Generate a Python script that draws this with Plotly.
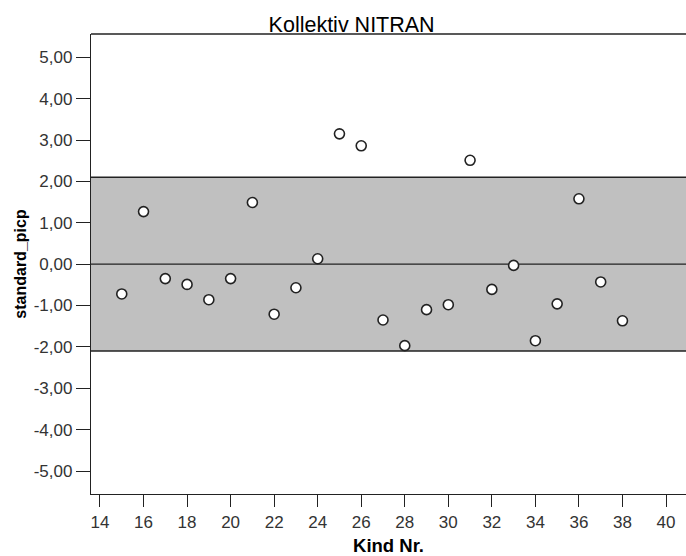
import plotly.graph_objects as go

# ---- data ----
kind_nr = [15, 16, 17, 18, 19, 20, 21, 22, 23, 24, 25, 26,
           27, 28, 29, 30, 31, 32, 33, 34, 35, 36, 37, 38]
standard_picp = [-0.72, 1.27, -0.35, -0.49, -0.86, -0.35, 1.49, -1.21,
                 -0.57, 0.13, 3.15, 2.86, -1.35, -1.97, -1.10, -0.98,
                 2.51, -0.61, -0.03, -1.85, -0.96, 1.58, -0.43, -1.37]

band_limit = 2.1
reference_line = 0.0

x_ticks = list(range(14, 41, 2))
x_tick_labels = [str(v) for v in x_ticks]
y_ticks = [5, 4, 3, 2, 1, 0, -1, -2, -3, -4, -5]
y_tick_labels = ["5,00", "4,00", "3,00", "2,00", "1,00", "0,00",
                 "-1,00", "-2,00", "-3,00", "-4,00", "-5,00"]

title_text = "Kollektiv NITRAN"
x_title = "Kind Nr."
y_title = "standard_picp"

FONT = "Liberation Sans, Arial, sans-serif"
DARK = "#222222"

fig = go.Figure()

fig.add_trace(go.Scatter(
    x=kind_nr, y=standard_picp, mode="markers",
    marker=dict(size=10, color="white", line=dict(color=DARK, width=1.6)),
    showlegend=False, hoverinfo="x+y",
))

# shaded band and reference lines
fig.add_shape(type="rect", xref="paper", yref="y", x0=0, x1=1,
              y0=-band_limit, y1=band_limit,
              fillcolor="#c0c0c0", line=dict(width=0, color="rgba(0,0,0,0)"),
              layer="below")
for yv in (-band_limit, band_limit, reference_line):
    fig.add_shape(type="line", xref="paper", yref="y", x0=0, x1=1,
                  y0=yv, y1=yv, line=dict(color=DARK, width=1.3), layer="below")
# top frame line
fig.add_shape(type="line", xref="paper", yref="paper", x0=0, x1=1,
              y0=1, y1=1, line=dict(color=DARK, width=1.3))

fig.update_layout(
    width=686, height=556,
    margin=dict(l=91, r=0, t=34, b=62, autoexpand=False),
    paper_bgcolor="white", plot_bgcolor="white",
    font=dict(family=FONT, color=DARK),
    title=dict(text=title_text, x=0.438, xref="paper", xanchor="center",
               y=1 - 24 / 556, yref="container", yanchor="middle",
               font=dict(size=21.5, color="black", family=FONT)),
)

fig.update_xaxes(
    range=[13.587, 40.918],
    tickvals=x_ticks, ticktext=x_tick_labels,
    ticks="outside", ticklen=12, tickwidth=1.3, tickcolor=DARK,
    showline=True, linecolor=DARK, linewidth=1.3, mirror=False,
    showgrid=False, zeroline=False,
    tickfont=dict(size=17, color="#333333"),
    title=dict(text="<b>" + x_title + "</b>", font=dict(size=18.5, color="black"),
               standoff=9),
)
fig.update_yaxes(
    range=[-5.556, 5.563],
    tickvals=y_ticks, ticktext=y_tick_labels,
    ticks="outside", ticklen=14, tickwidth=1.3, tickcolor=DARK,
    showline=True, linecolor=DARK, linewidth=1.3, mirror=False,
    showgrid=False, zeroline=False,
    tickfont=dict(size=17, color="#333333"),
    title=dict(text="<b>" + y_title + "</b>", font=dict(size=16, color="black"),
               standoff=3),
)

fig.write_html("out.html", config={"displayModeBar": False})
